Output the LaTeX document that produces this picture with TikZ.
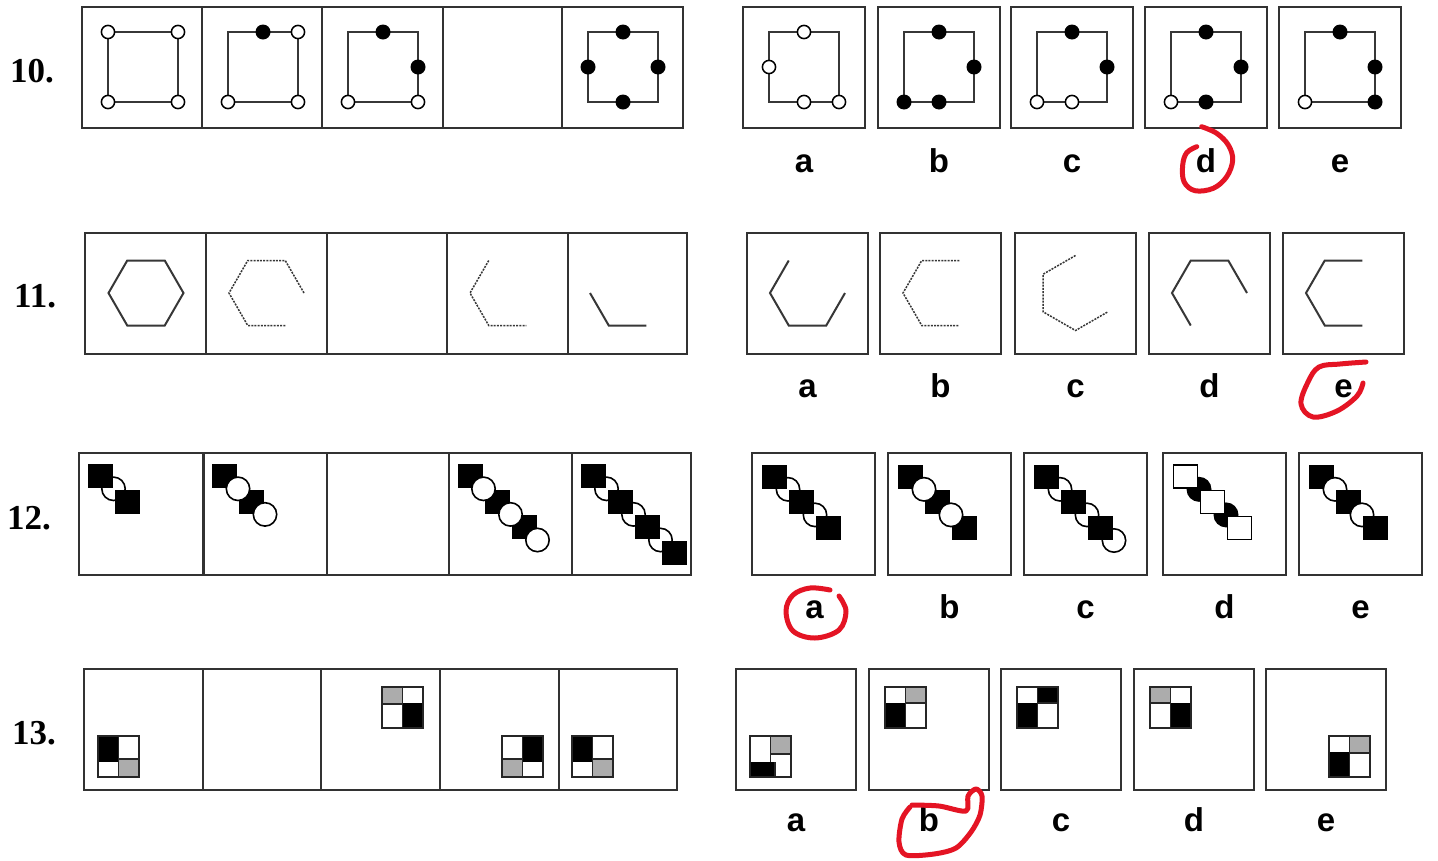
\documentclass[tikz,border=0pt]{standalone}
\usepackage{fontspec}
\setmainfont{Liberation Serif}
\newfontfamily\lblfont{Liberation Sans}
\definecolor{annot}{RGB}{228,20,36}
\definecolor{boxc}{RGB}{50,50,50}
\definecolor{figc}{RGB}{55,55,55}
\definecolor{tilegray}{RGB}{172,172,172}
% row 10 helpers
\newcommand\od[2]{\filldraw[fill=white,draw=black,line width=1.5pt] (#1,#2) circle[radius=6.6];}
\newcommand\bd[2]{\fill[black] (#1,#2) circle[radius=7.5];}
\newcommand\tenbase{\draw[fig] (-35,-35) rectangle (35,35);}
% row 12 helpers
\newcommand\bsq[1]{\fill[black] (#1*13.5-12.5,#1*12.8-12) rectangle ++(25,24);}
\newcommand\wci[1]{\filldraw[fill=white,draw=black,line width=1.6pt] (#1*13.5,#1*12.8) circle[radius=11.7];}
\newcommand\wsq[1]{\filldraw[fill=white,draw=black,line width=1.3pt] (#1*13.5-12,#1*12.8-11.5) rectangle ++(24,23);}
\newcommand\bci[1]{\fill[black] (#1*13.5,#1*12.8) circle[radius=12.5];}
% row 13 helpers
\newcommand\tileout{\draw[tl] (0,0) rectangle (41,41);}
\begin{document}
\begin{tikzpicture}[x=1pt,y=-1pt,
  frame/.style={draw=boxc,line width=2.3pt},
  fig/.style={draw=figc,line width=1.9pt},
  hexsolid/.style={draw=figc,line width=2pt,line join=miter},
  hexdot/.style={draw=figc,line width=1.5pt,dash pattern=on 2pt off 1.2pt},
  tl/.style={draw=black!85,line width=1.5pt},
  qnum/.style={font=\fontsize{35}{35}\bfseries\selectfont,inner sep=0pt,anchor=base west},
  albl/.style={font=\lblfont\fontsize{33}{33}\bfseries\selectfont,inner sep=0pt,anchor=base},
  redmark/.style={draw=annot,line width=5pt,line cap=round,line join=round}
]
\useasboundingbox (0,0) rectangle (1438,860);
\fill[white] (0,0) rectangle (1438,860);

%================ ROW 10 =================
\node[qnum] (n10) at (10,82) {10.};
\draw[frame] (82,7) rectangle (683,128);
\foreach \x in {202,322,443,562} \draw[frame] (\x,7) -- (\x,128);
\begin{scope}[shift={(143,67)}]\tenbase \od{-35}{-35}\od{35}{-35}\od{-35}{35}\od{35}{35}\end{scope}
\begin{scope}[shift={(263,67)}]\tenbase \bd{0}{-35}\od{35}{-35}\od{-35}{35}\od{35}{35}\end{scope}
\begin{scope}[shift={(383,67)}]\tenbase \bd{0}{-35}\bd{35}{0}\od{-35}{35}\od{35}{35}\end{scope}
\begin{scope}[shift={(623,67)}]\tenbase \bd{0}{-35}\bd{-35}{0}\bd{35}{0}\bd{0}{35}\end{scope}

\foreach \x in {743,878,1011,1145,1279} \draw[frame] (\x,7) rectangle ++(122,121);
\begin{scope}[shift={(804,67)}]\tenbase \od{0}{-35}\od{-35}{0}\od{0}{35}\od{35}{35}\end{scope}
\begin{scope}[shift={(939,67)}]\tenbase \bd{0}{-35}\bd{35}{0}\bd{-35}{35}\bd{0}{35}\end{scope}
\begin{scope}[shift={(1072,67)}]\tenbase \bd{0}{-35}\bd{35}{0}\od{-35}{35}\od{0}{35}\end{scope}
\begin{scope}[shift={(1206,67)}]\tenbase \bd{0}{-35}\bd{35}{0}\bd{0}{35}\od{-35}{35}\end{scope}
\begin{scope}[shift={(1340,67)}]\tenbase \bd{0}{-35}\bd{35}{0}\bd{35}{35}\od{-35}{35}\end{scope}
\node[albl] (r10a) at (804,172) {a};
\node[albl] (r10b) at (939,172) {b};
\node[albl] (r10c) at (1072,172) {c};
\node[albl] (r10d) at (1206,172) {d};
\node[albl] (r10e) at (1340,172) {e};

%================ ROW 11 =================
\node[qnum] (n11) at (14,307) {11.};
\draw[frame] (85,233) rectangle (687,354);
\foreach \x in {206,327,447,568} \draw[frame] (\x,233) -- (\x,354);
\begin{scope}[shift={(146,293)}]
\draw[hexsolid] (37.5,0)--(18.75,-32.5)--(-18.75,-32.5)--(-37.5,0)--(-18.75,32.5)--(18.75,32.5)--cycle;
\end{scope}
\begin{scope}[shift={(266.5,293)}]
\draw[hexdot] (37.5,0)--(18.75,-32.5)--(-18.75,-32.5)--(-37.5,0)--(-18.75,32.5)--(18.75,32.5);
\end{scope}
\begin{scope}[shift={(507.5,293)}]
\draw[hexdot] (-18.75,-32.5)--(-37.5,0)--(-18.75,32.5)--(18.75,32.5);
\end{scope}
\begin{scope}[shift={(627.5,293)}]
\draw[hexsolid] (-37.5,0)--(-18.75,32.5)--(18.75,32.5);
\end{scope}

\foreach \x in {747,880,1015,1149,1283} \draw[frame] (\x,233) rectangle ++(121,121);
\begin{scope}[shift={(807.5,293)}]
\draw[hexsolid] (-18.75,-32.5)--(-37.5,0)--(-18.75,32.5)--(18.75,32.5)--(37.5,0);
\end{scope}
\begin{scope}[shift={(940.5,293)}]
\draw[hexdot] (18.75,-32.5)--(-18.75,-32.5)--(-37.5,0)--(-18.75,32.5)--(18.75,32.5);
\end{scope}
\begin{scope}[shift={(1075.5,293)}]
\draw[hexdot] (0,-37.5)--(-32.5,-18.75)--(-32.5,18.75)--(0,37.5)--(32.5,18.75);
\end{scope}
\begin{scope}[shift={(1209.5,293)}]
\draw[hexsolid] (-18.75,32.5)--(-37.5,0)--(-18.75,-32.5)--(18.75,-32.5)--(37.5,0);
\end{scope}
\begin{scope}[shift={(1343.5,293)}]
\draw[hexsolid] (18.75,-32.5)--(-18.75,-32.5)--(-37.5,0)--(-18.75,32.5)--(18.75,32.5);
\end{scope}
\node[albl] (r11a) at (807.5,397) {a};
\node[albl] (r11b) at (940.5,397) {b};
\node[albl] (r11c) at (1075.5,397) {c};
\node[albl] (r11d) at (1209.5,397) {d};
\node[albl] (r11e) at (1343.5,397) {e};

%================ ROW 12 =================
\node[qnum] (n12) at (7,529) {12.};
\draw[frame] (79,453) rectangle (691,575);
\foreach \x in {203.5,327,449,572} \draw[frame] (\x,453) -- (\x,575);
\begin{scope}[shift={(100,476)}]\wci{1}\bsq{0}\bsq{2}\end{scope}
\begin{scope}[shift={(224.5,476)}]\bsq{0}\bsq{2}\wci{1}\wci{3}\end{scope}
\begin{scope}[shift={(470,476)}]\bsq{0}\bsq{2}\bsq{4}\wci{1}\wci{3}\wci{5}\end{scope}
\begin{scope}[shift={(593,476)}]\wci{1}\wci{3}\wci{5}\bsq{0}\bsq{2}\bsq{4}\bsq{6}\end{scope}

\foreach \x in {752,888,1024,1163,1299} \draw[frame] (\x,453) rectangle ++(123,122);
\begin{scope}[shift={(774.5,476.5)}]\wci{1}\wci{3}\bsq{0}\bsq{2}\bsq{4}\end{scope}
\begin{scope}[shift={(910.5,476.5)}]\bsq{0}\bsq{2}\bsq{4}\wci{1}\wci{3}\end{scope}
\begin{scope}[shift={(1046.5,476.5)}]\wci{1}\wci{3}\wci{5}\bsq{0}\bsq{2}\bsq{4}\end{scope}
\begin{scope}[shift={(1185.5,476.5)}]\bci{1}\bci{3}\wsq{0}\wsq{2}\wsq{4}\end{scope}
\begin{scope}[shift={(1321.5,476.5)}]\bsq{0}\wci{1}\bsq{2}\wci{3}\bsq{4}\end{scope}
\node[albl] (r12a) at (814.5,618) {a};
\node[albl] (r12b) at (949.5,618) {b};
\node[albl] (r12c) at (1085.5,618) {c};
\node[albl] (r12d) at (1224.5,618) {d};
\node[albl] (r12e) at (1360.5,618) {e};

%================ ROW 13 =================
\node[qnum] (n13) at (12,744) {13.};
\draw[frame] (84,669) rectangle (677,790);
\foreach \x in {203,321,440,559} \draw[frame] (\x,669) -- (\x,790);
% cell 1: black TL, gray BR
\begin{scope}[shift={(98,736)}]
\fill[black] (0,0) rectangle (20.5,25.5);
\filldraw[fill=tilegray,tl] (20.5,23) rectangle (41,41);
\draw[tl] (20.5,0)--(20.5,41); \tileout
\end{scope}
% cell 3: gray TL, black BR
\begin{scope}[shift={(382,687)}]
\fill[black] (20.5,15.5) rectangle (41,41);
\filldraw[fill=tilegray,tl] (0,0) rectangle (20.5,17);
\draw[tl] (20.5,0)--(20.5,41); \tileout
\end{scope}
% cell 4: black TR, gray BL
\begin{scope}[shift={(502,736)}]
\fill[black] (20.5,0) rectangle (41,25.5);
\filldraw[fill=tilegray,tl] (0,23) rectangle (20.5,41);
\draw[tl] (20.5,0)--(20.5,41); \tileout
\end{scope}
% cell 5: black TL, gray BR
\begin{scope}[shift={(572,736)}]
\fill[black] (0,0) rectangle (20.5,25.5);
\filldraw[fill=tilegray,tl] (20.5,23) rectangle (41,41);
\draw[tl] (20.5,0)--(20.5,41); \tileout
\end{scope}

\foreach \x in {736,869,1001,1134,1266} \draw[frame] (\x,669) rectangle ++(120,121);
% a
\begin{scope}[shift={(750,736)}]
\draw[tl] (20.5,0)--(20.5,26);
\filldraw[fill=tilegray,tl] (20.5,0) rectangle (41,18);
\fill[black] (0,26) rectangle (25,41);
\draw[tl] (25,26)--(25,41); \tileout
\end{scope}
% b
\begin{scope}[shift={(885,687)}]
\fill[black] (0,15.5) rectangle (20.5,41);
\filldraw[fill=tilegray,tl] (20.5,0) rectangle (41,16);
\draw[tl] (20.5,0)--(20.5,41); \tileout
\end{scope}
% c
\begin{scope}[shift={(1017,687)}]
\fill[black] (0,15.5) rectangle (20.5,41);
\fill[black] (20.5,0) rectangle (41,16);
\draw[tl] (20.5,0)--(20.5,41); \draw[tl] (20.5,16)--(41,16); \tileout
\end{scope}
% d
\begin{scope}[shift={(1150,687)}]
\fill[black] (20.5,15.5) rectangle (41,41);
\filldraw[fill=tilegray,tl] (0,0) rectangle (20.5,16);
\draw[tl] (20.5,0)--(20.5,41); \tileout
\end{scope}
% e
\begin{scope}[shift={(1329,736)}]
\fill[black] (0,15.5) rectangle (20.5,41);
\filldraw[fill=tilegray,tl] (20.5,0) rectangle (41,17);
\draw[tl] (20.5,0)--(20.5,41); \tileout
\end{scope}
\node[albl] (r13a) at (796,831) {a};
\node[albl] (r13b) at (929,831) {b};
\node[albl] (r13c) at (1061,831) {c};
\node[albl] (r13d) at (1194,831) {d};
\node[albl] (r13e) at (1326,831) {e};

%================ red hand marks =================
\draw[redmark] plot[smooth,tension=0.6] coordinates {(1201.7,126.7) (1216.7,133.3) (1228.3,145) (1232.7,160) (1226.7,176.7) (1213.3,188.3) (1195,190.7) (1184,181.7) (1182.7,165) (1186.7,152.7) (1196.7,146.7)};
\draw[redmark] plot[smooth,tension=0.6] coordinates {(1366,362) (1340,364) (1319,367) (1308,382) (1301,404) (1313,417) (1337,411) (1357,396) (1363,383)};
\draw[redmark] plot[smooth,tension=0.6] coordinates {(830,590) (810,588) (793,595) (786,611) (793,631) (815,638) (839,630) (846,611) (839,596)};
\draw[redmark] plot[smooth,tension=0.5] coordinates {(912,805) (939,806) (966,811) (968,796) (976,789) (982,796) (980,815) (971,832) (956,848) (934,854) (906,855) (899,842) (902,819) (910,807)};
\end{tikzpicture}
\end{document}
